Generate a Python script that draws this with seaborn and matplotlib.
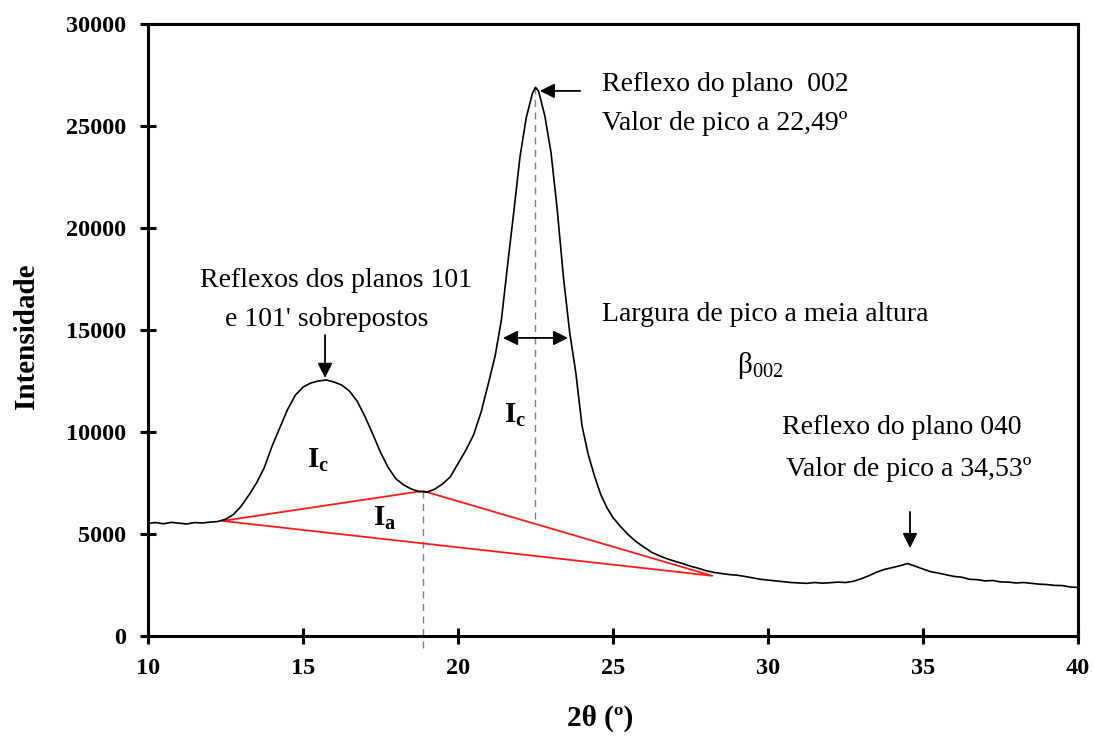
import matplotlib
matplotlib.use("Agg")
import matplotlib.pyplot as plt
import pandas as pd
import seaborn as sns

# Diffractogram: 2-theta (degrees) and measured intensity
two_theta = [
    10.0, 10.25, 10.5, 10.75, 11.0, 11.25, 11.5, 11.75, 12.0, 12.25,
    12.5, 12.75, 13.0, 13.25, 13.5, 13.75, 14.0, 14.25, 14.5, 14.75,
    15.0, 15.25, 15.5, 15.75, 16.0, 16.25, 16.5, 16.75, 17.0, 17.25,
    17.5, 17.75, 18.0, 18.25, 18.5, 18.75, 19.0, 19.25, 19.5, 19.75,
    20.0, 20.25, 20.5, 20.75, 21.0, 21.2, 21.4, 21.6, 21.8, 22.0,
    22.2, 22.4, 22.5, 22.6, 22.8, 23.0, 23.2, 23.4, 23.6, 23.8,
    24.0, 24.2, 24.4, 24.6, 24.8, 25.0, 25.25, 25.5, 25.75, 26.0,
    26.25, 26.5, 26.75, 27.0, 27.25, 27.5, 27.75, 28.0, 28.25, 28.5,
    28.75, 29.0, 29.25, 29.5, 29.75, 30.0, 30.25, 30.5, 30.75, 31.0,
    31.25, 31.5, 31.75, 32.0, 32.25, 32.5, 32.75, 33.0, 33.25, 33.5,
    33.75, 34.0, 34.25, 34.5, 34.75, 35.0, 35.25, 35.5, 35.75, 36.0,
    36.25, 36.5, 36.75, 37.0, 37.25, 37.5, 37.75, 38.0, 38.25, 38.5,
    38.75, 39.0, 39.25, 39.5, 39.75, 40.0,
]
intensity = [
    5520, 5560, 5500, 5570, 5530, 5490, 5560, 5540, 5580, 5610,
    5720, 5950, 6350, 6900, 7500, 8250, 9300, 10200, 11100, 11800,
    12200, 12400, 12500, 12550, 12450, 12300, 12000, 11500, 10750, 9900,
    9000, 8250, 7700, 7400, 7200, 7080, 7050, 7200, 7450, 7800,
    8450, 9100, 9850, 11000, 12500, 13750, 15500, 18200, 20800, 23500,
    25400, 26600, 26900, 26700, 25500, 23700, 20900, 17600, 14900, 12900,
    10300, 8900, 7850, 6950, 6300, 5800, 5350, 4950, 4620, 4350,
    4100, 3930, 3780, 3660, 3550, 3420, 3320, 3200, 3120, 3060,
    3010, 2980, 2920, 2850, 2780, 2740, 2700, 2660, 2620, 2600,
    2580, 2620, 2590, 2610, 2640, 2620, 2680, 2800, 2950, 3130,
    3260, 3350, 3440, 3550, 3420, 3280, 3150, 3080, 3000, 2920,
    2880, 2780, 2760, 2700, 2720, 2650, 2640, 2600, 2620, 2580,
    2540, 2520, 2480, 2470, 2400, 2380,
]

# Amorphous baseline triangle (start, valley, end)
base_x = [12.4, 18.87, 28.2, 12.4]
base_y = [5640, 7110, 2950, 5640]

valley_x, valley_y = 18.87, 7110
peak002_x, peak002_y = 22.49, 26900
peak101_x = 15.71
peak040_x = 34.58
fwhm_left, fwhm_right, fwhm_y = 21.45, 23.55, 14610

x_ticks = [10, 15, 20, 25, 30, 35, 40]
y_ticks = [0, 5000, 10000, 15000, 20000, 25000, 30000]

sns.set_theme(style="white")
plt.rcParams["font.family"] = ["Liberation Serif", "DejaVu Serif"]
plt.rcParams["mathtext.fontset"] = "custom"
plt.rcParams["mathtext.rm"] = "Liberation Serif"
plt.rcParams["mathtext.it"] = "Liberation Serif:italic"
plt.rcParams["mathtext.bf"] = "Liberation Serif:bold"
plt.rcParams["text.color"] = "black"
plt.rcParams["axes.labelcolor"] = "black"
plt.rcParams["xtick.color"] = "black"
plt.rcParams["ytick.color"] = "black"

fig = plt.figure(figsize=(10.94, 7.36), dpi=100)
fig.patch.set_facecolor("white")
ax = fig.add_axes([0.1353, 0.1359, 0.8501, 0.8315])
ax.set_facecolor("white")

df = pd.DataFrame({"two_theta": two_theta, "intensity": intensity})
sns.lineplot(data=df, x="two_theta", y="intensity", ax=ax,
             color="black", linewidth=1.2, zorder=3)

ax.plot(base_x, base_y, color="#ff1a1a", linewidth=1.3, zorder=2)

# dashed guides
ax.plot([valley_x, valley_x], [valley_y, -700], color="#808080",
        linewidth=1.0, linestyle=(0, (5, 4)), clip_on=False, zorder=1)
ax.plot([peak002_x, peak002_x], [peak002_y, 5490], color="#808080",
        linewidth=1.0, linestyle=(0, (5, 4)), zorder=1)

arrow = dict(arrowstyle="-|>", color="black", lw=1.3,
             mutation_scale=22, shrinkA=0, shrinkB=0)
ax.annotate("", xy=(peak002_x + 0.15, 26720), xytext=(23.94, 26720),
            arrowprops=arrow)
ax.annotate("", xy=(peak101_x, 12650), xytext=(peak101_x, 14750),
            arrowprops=arrow)
ax.annotate("", xy=(peak040_x, 4310), xytext=(peak040_x, 6080),
            arrowprops=arrow)
ax.annotate("", xy=(fwhm_left, fwhm_y), xytext=(fwhm_right, fwhm_y),
            arrowprops=dict(arrowstyle="<|-|>", color="black", lw=1.3,
                            mutation_scale=22, shrinkA=0, shrinkB=0))

fs = 20
ax.text(24.65, 27050, "Reflexo do plano  002", fontsize=fs, va="center", ha="left")
ax.text(24.65, 25100, "Valor de pico a 22,49º", fontsize=fs, va="center", ha="left")
ax.text(16.06, 17450, "Reflexos dos planos 101", fontsize=fs, va="center", ha="center")
ax.text(15.77, 15490, "e 101' sobrepostos", fontsize=fs, va="center", ha="center")
ax.text(24.65, 15740, "Largura de pico a meia altura", fontsize=fs, va="center", ha="left")
ax.text(29.74, 13280, r"$\mathrm{\beta}_{\mathrm{002}}$", fontsize=21, va="center", ha="center")
ax.text(34.32, 10200, "Reflexo do plano 040", fontsize=fs, va="center", ha="center")
ax.text(34.55, 8140, "Valor de pico a 34,53º", fontsize=fs, va="center", ha="center")

ax.text(15.48, 8630, r"$\mathbf{I_c}$", fontsize=21, va="center", ha="center")
ax.text(17.65, 5780, r"$\mathbf{I_a}$", fontsize=21, va="center", ha="center")
ax.text(21.84, 10830, r"$\mathbf{I_c}$", fontsize=21, va="center", ha="center")

ax.set_xlim(10, 40)
ax.set_ylim(0, 30000)
ax.set_xticks(x_ticks)
ax.set_yticks(y_ticks)
ax.set_xticklabels([str(v) for v in x_ticks], fontweight="bold")
ax.set_yticklabels([str(v) for v in y_ticks], fontweight="bold")
ax.tick_params(axis="both", direction="inout", length=12, width=2.2,
               labelsize=17.5, colors="black", pad=10)
ax.tick_params(axis="x", top=False, bottom=True)
ax.tick_params(axis="y", left=True, right=False)

for side in ["left", "right", "top", "bottom"]:
    ax.spines[side].set_visible(True)
    ax.spines[side].set_color("black")
    ax.spines[side].set_linewidth(2.2)

ax.set_xlabel("2θ (º)", fontsize=21, fontweight="bold")
ax.set_ylabel("Intensidade", fontsize=21, fontweight="bold")
ax.xaxis.set_label_coords(0.486, -0.112)
ax.yaxis.set_label_coords(-0.116, 0.49)
ax.grid(False)

fig.savefig("out.png", dpi=100, facecolor="white")
